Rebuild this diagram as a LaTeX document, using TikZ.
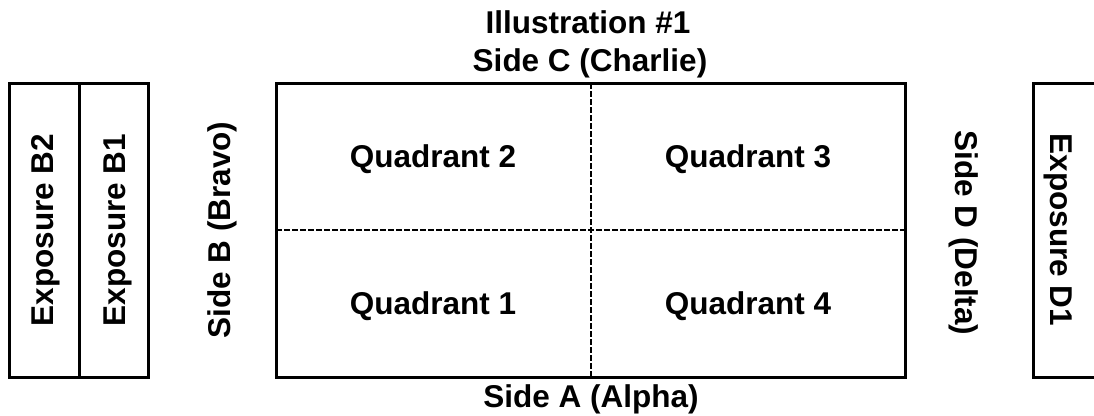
\documentclass[tikz,border=0pt]{standalone}
\usepackage{fontspec}
\setmainfont{Liberation Sans}
\begin{document}
\begin{tikzpicture}[x=1bp,y=-1bp,
  lbl/.style={font=\fontsize{31.5bp}{38bp}\selectfont\bfseries, inner sep=0pt, anchor=base},
  frame/.style={draw=black, line width=3bp},
  divider/.style={draw=black, line width=2bp, dash pattern=on 6bp off 2bp}]
\useasboundingbox (0,0) rectangle (1094,415);
\clip (0,0) rectangle (1094,415);
% main box
\draw[frame] (276,83) coordinate (mtl) rectangle (905,377) coordinate (mbr);
\coordinate (vt) at (591,83);
\coordinate (vb) at (591,377);
\coordinate (hl) at (276,230);
\coordinate (hr) at (905,230);
\draw[divider] (vt) -- (vb);
\draw[divider] (hl) -- (hr);
% left exposure boxes
\draw[frame] (9,83) rectangle (148,377);
\coordinate (lt) at (79,83);
\coordinate (lb) at (79,377);
\draw[frame] (lt) -- (lb);
% right exposure box
\draw[frame] (1110,83) -- (1033,83) -- (1033,377) -- (1110,377);
% texts
\node[lbl] (title) at (588,33) {Illustration \#1};
\node[lbl] (sidec) at (590,71) {Side C (Charlie)};
\node[lbl] (sidea) at (591,407) {Side A (Alpha)};
\node[lbl] (q2) at (433,167) {Quadrant 2};
\node[lbl] (q3) at (748,167) {Quadrant 3};
\node[lbl] (q1) at (433,314.5) {Quadrant 1};
\node[lbl] (q4) at (748,314.5) {Quadrant 4};
\node[lbl, rotate=90] (eb2) at (53,230) {Exposure B2};
\node[lbl, rotate=90] (eb1) at (125,230) {Exposure B1};
\node[lbl, rotate=90] (sideb) at (230,230) {Side B (Bravo)};
\node[lbl, rotate=-90] (sided) at (955,233) {Side D (Delta)};
\node[lbl, rotate=-90] (ed1) at (1050,230) {Exposure D1};
\end{tikzpicture}
\end{document}
